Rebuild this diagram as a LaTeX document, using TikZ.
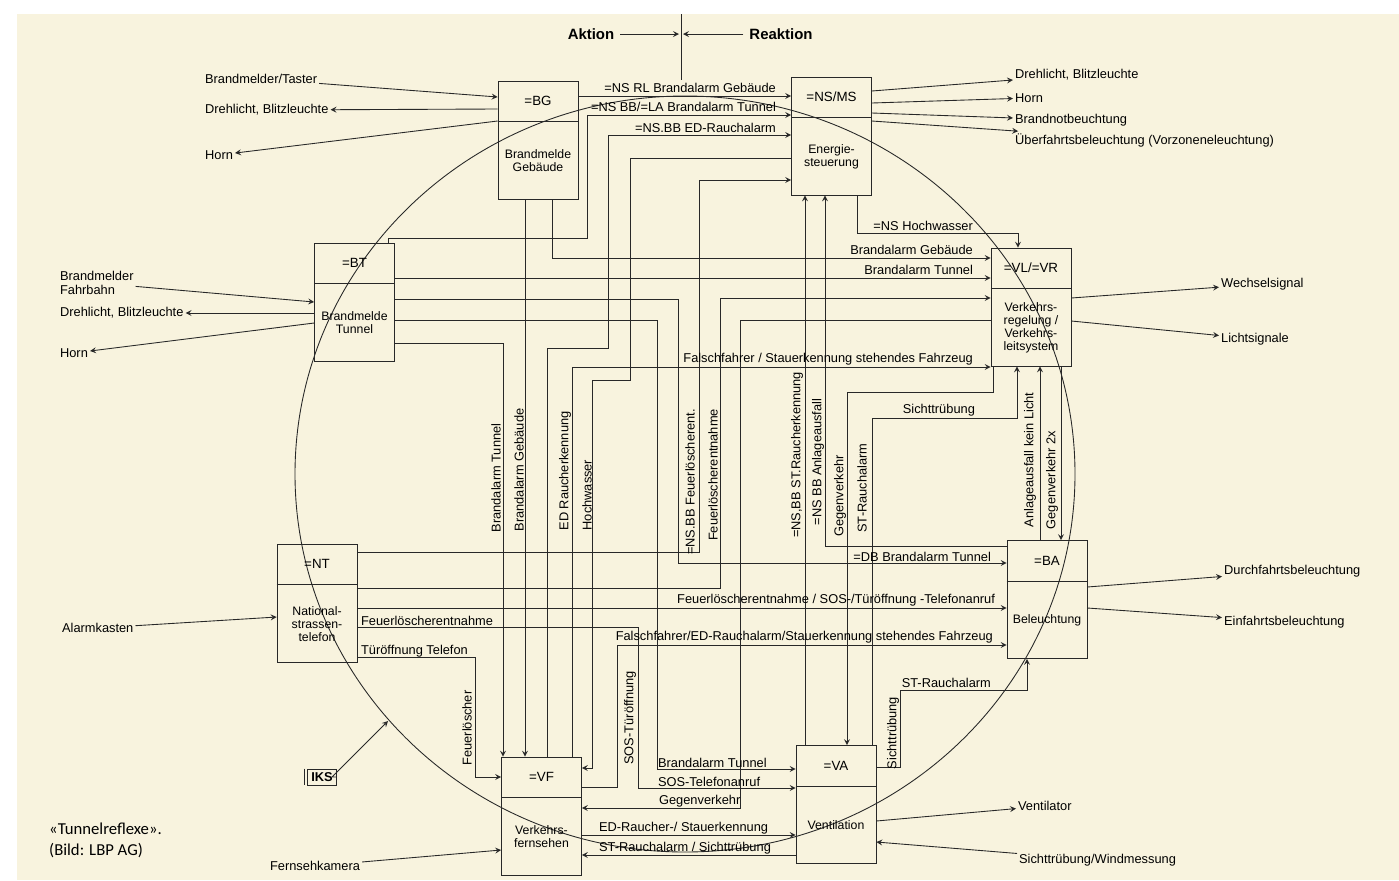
\documentclass[tikz,border=0pt]{standalone}
\usepackage{fontspec}
\setmainfont{Liberation Sans}
\newfontfamily\capfont{Carlito}
\usepackage{xcolor}
\definecolor{paper}{RGB}{248,243,222}
\definecolor{ink}{RGB}{40,40,40}
\usepackage{tikz}
\usetikzlibrary{arrows,positioning,calc}
\tikzstyle{unit} = [draw=ink, minimum width=1.6cm, minimum height=2.36cm, inner sep=0pt]
\tikzstyle{unittag} = [font=\fontsize{7.6}{8}\selectfont, inner sep=1pt]
\tikzstyle{unitname} = [font=\fontsize{7}{7.4}\selectfont, align=center, inner sep=1pt]
\tikzstyle{txt} = [font=\fontsize{7.3}{8}\selectfont, inner sep=1pt]
\tikzstyle{vtxt} = [txt, rotate=90]
\tikzstyle{wire} = [draw=ink, line width=0.5pt]
\tikzstyle{arrow} = [wire, ->, >=stealth]

\begin{document}
\begin{tikzpicture}[x=0.02cm, y=-0.02cm]
    \useasboundingbox (0,0) rectangle (1399,880);
    \fill[white] (0,0) rectangle (1399,880);
    \fill[paper] (17,14) rectangle (1399,880);

    % Aktion / Reaktion
    \node[font=\bfseries\fontsize{8.5}{9}\selectfont] (aktion) at (591,34) {Aktion};
    \node[font=\bfseries\fontsize{8.5}{9}\selectfont] (reaktion) at (781,34) {Reaktion};
    \coordinate (axtop) at (681,14);
    \coordinate (axbot) at (681,80);
    \coordinate (akl) at (679,34);
    \coordinate (akr) at (683,34);
    \draw[wire] (axtop) -- (axbot);
    \draw[arrow] (aktion) -- (akl);
    \draw[arrow] (reaktion) -- (akr);

    % Kreis
    \draw[wire] (685,474) ellipse [x radius=390, y radius=378];

    % Funktionsbloecke
    \node[unit] (bg) at (538,140) {};
    \node[unit] (nsms) at (831.5,136) {};
    \node[unit] (bt) at (354.5,302) {};
    \node[unit] (vlvr) at (1031,307) {};
    \node[unit] (nt) at (317,603) {};
    \node[unit] (ba) at (1047,599.5) {};
    \node[unit] (vf) at (541.5,816) {};
    \node[unit] (va) at (836,804.5) {};
    \foreach \b in {bg,nsms,bt,vlvr,nt,ba,vf,va}
        \draw[wire] ([yshift=-0.82cm]\b.north west) -- ([yshift=-0.82cm]\b.north east);

    \node[unittag] (bgtag) at ([yshift=-0.41cm]bg.north) {=BG};
    \node[unittag] (nsmstag) at ([yshift=-0.41cm]nsms.north) {=NS/MS};
    \node[unittag] (bttag) at ([yshift=-0.41cm]bt.north) {=BT};
    \node[unittag] (vlvrtag) at ([yshift=-0.41cm]vlvr.north) {=VL/=VR};
    \node[unittag] (nttag) at ([yshift=-0.41cm]nt.north) {=NT};
    \node[unittag] (batag) at ([yshift=-0.41cm]ba.north) {=BA};
    \node[unittag] (vftag) at ([yshift=-0.41cm]vf.north) {=VF};
    \node[unittag] (vatag) at ([yshift=-0.41cm]va.north) {=VA};

    \node[unitname] (bgname) at ([yshift=0.77cm]bg.south) {Brandmelde\\Gebäude};
    \node[unitname] (nsmsname) at ([yshift=0.77cm]nsms.south) {Energie-\\steuerung};
    \node[unitname] (btname) at ([yshift=0.77cm]bt.south) {Brandmelde\\Tunnel};
    \node[unitname] (vlvrname) at ([yshift=0.77cm]vlvr.south) {Verkehrs-\\regelung /\\Verkehrs-\\leitsystem};
    \node[unitname] (ntname) at ([yshift=0.77cm]nt.south) {National-\\strassen-\\telefon};
    \node[unitname] (baname) at ([yshift=0.77cm]ba.south) {Beleuchtung};
    \node[unitname] (vfname) at ([yshift=0.77cm]vf.south) {Verkehrs-\\fernsehen};
    \node[unitname] (vaname) at ([yshift=0.77cm]va.south) {Ventilation};

    % Peripherie links
    \node[txt, anchor=west] (bgin) at (203,79) {Brandmelder/Taster};
    \node[txt, anchor=west] (bgout1) at (203,110) {Drehlicht, Blitzleuchte};
    \node[txt, anchor=west] (bgout2) at (203,155) {Horn};
    \draw[arrow] (bgin) -- (bg.west |- 0,97);
    \draw[arrow] (bg.west |- 0,109) -- (bgout1);
    \draw[arrow] (bg.west |- 0,121) -- (bgout2);

    \node[txt, anchor=west, align=left] (btin) at (58,283) {Brandmelder\\Fahrbahn};
    \node[txt, anchor=west] (btout1) at (58,313) {Drehlicht, Blitzleuchte};
    \node[txt, anchor=west] (btout2) at (58,353) {Horn};
    \draw[arrow] (btin) -- (bt.west |- 0,302);
    \draw[arrow] (bt.west |- 0,313) -- (btout1);
    \draw[arrow] (bt.west |- 0,323) -- (btout2);

    \node[txt, anchor=west] (ntin) at (60,628) {Alarmkasten};
    \draw[arrow] (ntin) -- (nt.west |- 0,617);

    \node[draw=ink, font=\bfseries\fontsize{7.3}{8}\selectfont, inner sep=2pt] (iks) at (322,777) {IKS};
    \draw[wire] ([xshift=-0.07cm]iks.north west) -- ([xshift=-0.07cm]iks.south west);
    \coordinate (iksend) at (388,721);
    \draw[arrow] (iks) -- ++(10,0) -- (iksend);

    \node[txt, anchor=west] (vfin) at (268,866) {Fernsehkamera};
    \draw[arrow] (vfin) -- (vf.west |- 0,850);

    % Peripherie rechts
    \node[txt, anchor=west] (nsout1) at (1013,75) {Drehlicht, Blitzleuchte};
    \node[txt, anchor=west] (nsout2) at (1013,98) {Horn};
    \node[txt, anchor=west] (nsout3) at (1013,120) {Brandnotbeuchtung};
    \node[txt, anchor=west] (nsout4) at (1013,140) {Überfahrtsbeleuchtung (Vorzoneneleuchtung)};
    \draw[arrow] (nsms.east |- 0,91) -- (nsout1);
    \draw[arrow] (nsms.east |- 0,103) -- (nsout2);
    \draw[arrow] (nsms.east |- 0,113) -- (nsout3);
    \draw[arrow] (nsms.east |- 0,121) -- (nsout4);

    \node[txt, anchor=west] (vlout1) at (1219,284) {Wechselsignal};
    \node[txt, anchor=west] (vlout2) at (1219,339) {Lichtsignale};
    \draw[arrow] (vlvr.east |- 0,298) -- (vlout1);
    \draw[arrow] (vlvr.east |- 0,321) -- (vlout2);

    \node[txt, anchor=west] (baout1) at (1222,571) {Durchfahrtsbeleuchtung};
    \node[txt, anchor=west] (baout2) at (1222,622) {Einfahrtsbeleuchtung};
    \draw[arrow] (ba.east |- 0,587) -- (baout1);
    \draw[arrow] (ba.east |- 0,608) -- (baout2);

    \node[txt, anchor=west] (vaout) at (1016,806) {Ventilator};
    \node[txt, anchor=west] (vain) at (1017,860) {Sichttrübung/Windmessung};
    \draw[arrow] (va.east |- 0,821) -- (vaout);
    \draw[arrow] (vain) -- (va.east |- 0,842);

    % Verbindungen
    \draw[arrow] (bg.east |- 0,96) -- (nsms.west |- 0,96);
    \draw[arrow] (bt.north -| 388,0) |- (587,238) |- (nsms.west |- 0,115);
    \draw[arrow] (vf.north -| 547,0) |- (608,348) |- (nsms.west |- 0,135);
    \draw[arrow] (nsms.west |- 0,158) -| (630,380) -| (592,768) -- (vf.east |- 0,768);
    \draw[arrow] (nt.east |- 0,552) -| (699,180) -- (nsms.west |- 0,180);

    \draw[arrow] (bg.south -| 525,0) -- (vf.north -| 525,0);
    \draw[arrow] (bt.east |- 0,343) -| (vf.north -| 503,0);
    \draw[arrow] (bg.south -| 552,0) |- (vlvr.west |- 0,258);
    \draw[arrow] (bt.east |- 0,278) -- (vlvr.west |- 0,278);
    \draw[arrow] (nt.east |- 0,588) -| (720,298) -- (vlvr.west |- 0,298);
    \draw[arrow] (vf.north -| 572,0) |- (vlvr.west |- 0,367);
    \draw[arrow] (nsms.south -| 857,0) |- (1018,233) -- (vlvr.north -| 1018,0);

    \draw[arrow] (bt.east |- 0,299) -| (678,563) -- (ba.west |- 0,563);
    \draw[arrow] (nt.east |- 0,608) -- (ba.west |- 0,608);
    \draw[arrow] (vf.east |- 0,787) -| (617,645) -- (ba.west |- 0,645);
    \draw[arrow] (ba.west |- 0,546) -| (nsms.south -| 825,0);
    \draw[arrow] (va.north -| 805,0) -- (nsms.south -| 805,0);

    \draw[arrow] (vlvr.south -| 993,0) |- (847,392) -- (va.north -| 847,0);
    \draw[arrow] (va.north -| 872,0) |- (1017,418) -- (vlvr.south -| 1017,0);
    \draw[arrow] (ba.north -| 1040,0) -- (vlvr.south -| 1040,0);
    \draw[arrow] (vlvr.south -| 1061,0) -- (ba.north -| 1061,0);
    \draw[arrow] (va.east |- 0,767) -| (900,690) -| (ba.south -| 1027,0);

    \draw[arrow] (bt.east |- 0,320) -| (657,769) -- (va.west |- 0,769);
    \draw[arrow] (nt.east |- 0,627) -| (638,788) -- (va.west |- 0,788);
    \draw[arrow] (nt.east |- 0,657) -| (475,777) -- (vf.west |- 0,777);
    \draw[arrow] (vlvr.west |- 0,320) -| (740,808) -- (vf.east |- 0,808);
    \draw[arrow] (vf.east |- 0,835) -- (va.west |- 0,835);
    \draw[arrow] (va.west |- 0,855) -- (vf.east |- 0,855);

    % Beschriftungen waagrecht
    \node[txt, anchor=east] (l1) at (778,88) {=NS RL Brandalarm Gebäude};
    \node[txt, anchor=east] (l2) at (778,107) {=NS BB/=LA Brandalarm Tunnel};
    \node[txt, anchor=east] (l3) at (778,128) {=NS.BB ED-Rauchalarm};
    \node[txt, anchor=east] (l4) at (975,226) {=NS Hochwasser};
    \node[txt, anchor=east] (l5) at (975,250) {Brandalarm Gebäude};
    \node[txt, anchor=east] (l6) at (975,270) {Brandalarm Tunnel};
    \node[txt, anchor=east] (l7) at (975,359) {Falschfahrer / Stauerkennung stehendes Fahrzeug};
    \node[txt, anchor=east] (l8) at (977,410) {Sichttrübung};
    \node[txt, anchor=east] (l9) at (993,557) {=DB Brandalarm Tunnel};
    \node[txt, anchor=east] (l10) at (997,600) {Feuerlöscherentnahme / SOS-/Türöffnung -Telefonanruf};
    \node[txt, anchor=east] (l11) at (995,637) {Falschfahrer/ED-Rauchalarm/Stauerkennung stehendes Fahrzeug};
    \node[txt, anchor=east] (l12) at (993,683) {ST-Rauchalarm};
    \node[txt, anchor=west] (l13) at (359,621) {Feuerlöscherentnahme};
    \node[txt, anchor=west] (l14) at (359,651) {Türöffnung Telefon};
    \node[txt, anchor=west] (l15) at (656,763) {Brandalarm Tunnel};
    \node[txt, anchor=west] (l16) at (656,782) {SOS-Telefonanruf};
    \node[txt, anchor=west] (l17) at (657,801) {Gegenverkehr};
    \node[txt, anchor=west] (l18) at (597,828) {ED-Raucher-/ Stauerkennung};
    \node[txt, anchor=west] (l19) at (597,848) {ST-Rauchalarm / Sichttrübung};

    % Beschriftungen senkrecht
    \node[vtxt] (v1) at (496,478) {Brandalarm Tunnel};
    \node[vtxt] (v2) at (519,470) {Brandalarm Gebäude};
    \node[vtxt] (v3) at (565,471) {ED Raucherkennung};
    \node[vtxt] (v4) at (587,495) {Hochwasser};
    \node[vtxt] (v5) at (690,482) {=NS.BB Feuerlöscherent.};
    \node[vtxt] (v6) at (713,475) {Feuerlöscherentnahme};
    \node[vtxt] (v7) at (797,455) {=NS,BB ST.Raucherkennung};
    \node[vtxt] (v8) at (818,462) {=NS BB Anlageausfall};
    \node[vtxt] (v9) at (840,496) {Gegenverkehr};
    \node[vtxt] (v10) at (862,488) {ST-Rauchalarm};
    \node[vtxt] (v11) at (1030,460) {Anlageausfall kein Licht};
    \node[vtxt] (v12) at (1052,480) {Gegenverkehr 2x};
    \node[vtxt] (v13) at (630,718) {SOS-Türöffnung};
    \node[vtxt] (v14) at (467,728) {Feuerlöscher};
    \node[vtxt] (v15) at (893,733) {Sichttrübung};

    % Bildlegende
    \node[anchor=west, align=left, font=\capfont\fontsize{9.5}{12}\selectfont] (caption) at (43,840) {«Tunnelreflexe».\\(Bild: LBP AG)};
\end{tikzpicture}
\end{document}
